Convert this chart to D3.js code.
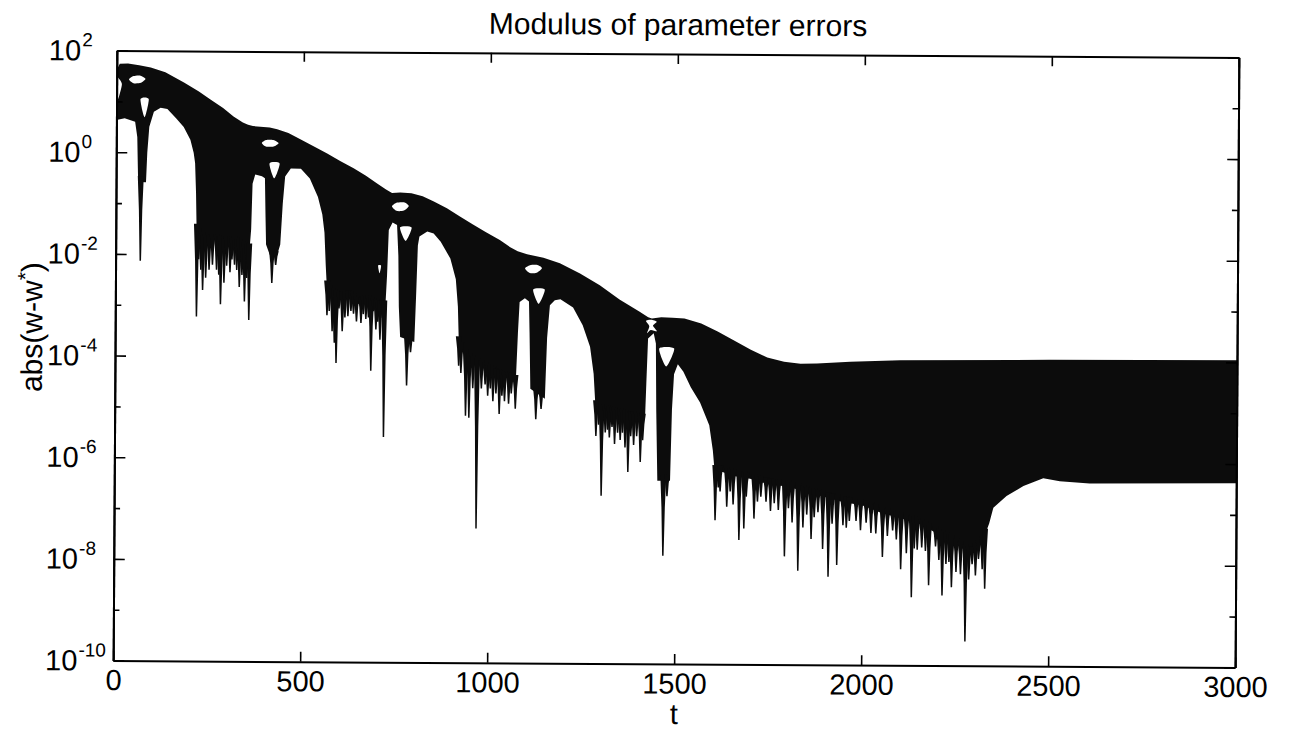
<!DOCTYPE html>
<html>
<head>
<meta charset="utf-8">
<script src="https://cdn.jsdelivr.net/npm/d3@7"></script>
<style>
  html, body { margin: 0; padding: 0; background: #ffffff; }
  svg { display: block; }
  text { font-family: "Liberation Sans", Arial, Helvetica, sans-serif; fill: #000; }
</style>
</head>
<body>
<svg id="chart" width="1290" height="733"></svg>
<script>
// ---- data: |w - w*| envelopes over time t ----
// upper edge of the error band
const upperT = [0, 8, 30, 60, 91, 130, 180, 220, 251, 285, 313, 338, 352, 365, 385, 410, 430, 460, 492, 530,
  564, 600, 635, 668, 698, 722, 738, 760, 790, 820, 850, 885, 920, 955, 990, 1027, 1055, 1075, 1100, 1144,
  1188, 1242, 1295, 1348, 1401, 1425, 1435, 1460, 1490, 1522, 1567, 1611, 1655, 1700, 1744, 1789, 1833,
  1877, 1966, 2100, 2500, 3000];
const upperV = [42, 55, 56, 52, 47, 38, 24, 16, 11.2, 7.6, 5.2, 4.0, 3.6, 3.4, 3.3, 3.2, 2.95, 2.5, 1.9, 1.35,
  1.0, 0.71, 0.52, 0.37, 0.26, 0.20, 0.17, 0.174, 0.17, 0.148, 0.117, 0.087, 0.060, 0.042, 0.0295, 0.021,
  0.0151, 0.0126, 0.011, 0.0095, 0.0074, 0.0047, 0.00275, 0.00145, 8.5e-4, 6.6e-4, 6.2e-4, 6.6e-4, 6.5e-4,
  6.3e-4, 5.0e-4, 3.5e-4, 2.35e-4, 1.55e-4, 1.1e-4, 9.1e-5, 8.3e-5, 8.5e-5, 9.3e-5, 1.0e-4, 1.07e-4, 1.1e-4];

// lower edge of the dense part of the band (arches, columns, comb roots)
const lowerT = [0, 22, 50, 56, 58, 59, 80, 83, 88, 100, 118, 136, 160, 180, 198, 207, 211, 214, 216, 225,
  245, 265, 290, 315, 340, 358, 362, 365, 372, 390, 398, 400, 402, 412, 430, 440, 446, 452, 467, 494,
  518, 540, 552, 558, 562, 565, 575, 600, 625, 650, 675, 700, 722, 726, 730, 740, 752, 756, 758, 762,
  800, 804, 808, 812, 833, 850, 869, 895, 910, 916, 919, 930, 950, 975, 1000, 1025, 1050, 1072, 1077, 1081,
  1095, 1106, 1108, 1111, 1150, 1155, 1162, 1175, 1190, 1224, 1250, 1270, 1280, 1285, 1290, 1320, 1350, 1380,
  1410, 1418, 1421, 1425, 1440, 1446, 1448, 1452, 1486, 1490, 1495, 1505, 1520, 1540, 1565, 1590, 1600, 1605,
  1620, 1660, 1700, 1750, 1800, 1850, 1900, 1950, 2000, 2050, 2100, 2150, 2200, 2250, 2290, 2320, 2340, 2351,
  2386, 2431, 2484, 2528, 2608, 3000];
const lowerV = [4.3, 4.7, 4.0, 2.0, 0.5, 0.26, 0.26, 1.0, 3.2, 6.3, 7.6, 7.2, 4.7, 3.2, 1.8, 1.0, 0.63, 0.16, 0.032, 0.022,
  0.018, 0.02, 0.016, 0.018, 0.014, 0.0126, 0.032, 0.25, 0.38, 0.35, 0.32, 0.063, 0.016, 0.010, 0.0089, 0.016, 0.10, 0.35, 0.50, 0.50,
  0.32, 0.14, 0.063, 0.028, 0.0063, 0.0025, 0.0018, 0.0014, 0.0016, 0.0011, 0.00126, 0.0010, 0.0010, 0.004, 0.032, 0.045, 0.040, 0.010, 0.0010, 2.5e-4,
  2.0e-4, 0.0016, 0.016, 0.024, 0.030, 0.0275, 0.019, 0.0089, 0.0035, 0.0010, 2.0e-4, 1.26e-4, 8.9e-5, 7.1e-5, 5.6e-5, 4.5e-5, 4.0e-5, 3.5e-5, 3.2e-4, 0.00126,
  0.0015, 0.0013, 3.2e-4, 2.5e-5, 1.6e-5, 2.5e-4, 0.0011, 0.00138, 0.00145, 0.0010, 4.5e-4, 1.7e-4, 5.0e-5, 1.26e-5, 1.0e-5, 8.9e-6, 7.9e-6, 7.1e-6,
  6.3e-6, 6.3e-6, 3.2e-5, 2.5e-4, 3.2e-4, 2.0e-4, 1.0e-5, 4.0e-7, 4.0e-7, 1.0e-5, 5.0e-5, 7.9e-5, 5.6e-5, 2.8e-5, 1.4e-5, 5.0e-6, 1.6e-6, 6.3e-7,
  6.3e-7, 5.0e-7, 4.5e-7, 3.5e-7, 3.2e-7, 2.5e-7, 2.0e-7, 1.6e-7, 1.4e-7, 1.0e-7, 7.9e-8, 6.3e-8, 4.0e-8, 2.5e-8, 1.6e-8, 2.5e-8, 6.3e-8, 1.3e-7,
  2.2e-7, 3.5e-7, 5.0e-7, 4.4e-7, 4.0e-7, 4.2e-7];

// downward excursions reaching below the dense band: time and minimum value
const spikeT = [66, 217, 222, 228, 233, 241, 250, 259, 270, 276, 281, 290, 297, 306, 311, 318, 324, 331, 338, 345, 351, 357,
  418, 428,
  566, 572, 580, 586, 591, 598, 607, 614, 622, 630, 637, 645, 657, 663, 670, 677, 684, 690, 697, 702, 708, 714, 719,
  780, 790,
  919, 925, 938, 947, 957, 968, 980, 990, 997, 1004, 1011, 1019, 1028, 1035, 1042, 1053, 1060, 1071,
  1126, 1140,
  1287, 1294, 1302, 1312, 1318, 1323, 1330, 1337, 1345, 1352, 1358, 1365, 1373, 1380, 1388, 1396, 1406, 1412,
  1468, 1478,
  1607, 1615, 1620, 1638, 1647, 1655, 1671, 1684, 1690, 1711, 1720, 1729, 1743, 1755, 1765, 1776, 1793, 1803,
  1813, 1829, 1842, 1852, 1864, 1872, 1882, 1895, 1910, 1920, 1933, 1949, 1958, 1966, 1984, 1996, 2011, 2024,
  2037, 2055, 2068, 2082, 2092, 2104, 2119, 2133, 2140, 2148, 2160, 2170, 2179, 2197, 2206, 2215, 2225, 2233,
  2240, 2252, 2264, 2277, 2286, 2295, 2304, 2312, 2322, 2329];
const spikeV = [7.4e-3, 6.0e-4, 8e-3, 5e-3, 2.0e-3, 3.5e-3, 5.0e-3, 6.3e-3, 5.0e-3, 4e-3, 1.05e-3, 2.8e-3, 6e-3, 4.5e-3, 8e-3, 6.3e-3, 5e-3, 2.3e-3, 4e-3, 1.2e-3, 3.5e-3, 5.2e-4,
  2.8e-3, 6.3e-3,
  6.6e-4, 8e-4, 3.2e-4, 1.9e-4, 7.6e-5, 9e-4, 3.2e-4, 6e-4, 6.3e-4, 8e-4, 7.1e-4, 5e-4, 4.7e-4, 7e-4, 5.6e-4, 6e-4, 5.4e-5, 8e-4, 3.5e-4, 5e-4, 2.2e-4, 6e-4, 2.7e-6,
  2.8e-5, 1.26e-4,
  6.9e-5, 5e-5, 7.2e-6, 6.6e-6, 2.5e-5, 4.4e-8, 2.5e-5, 3e-5, 1.8e-5, 2.5e-5, 1.4e-5, 2e-5, 7.9e-6, 1.8e-5, 1.4e-5, 1.26e-5, 2e-5, 1.0e-5,
  6.3e-6, 1.0e-5,
  3.0e-6, 5e-6, 2.0e-7, 3.5e-6, 4e-6, 2.8e-6, 4.5e-6, 2.1e-6, 3.5e-6, 2.5e-6, 3.5e-6, 1.8e-6, 5.9e-7, 3e-6, 2.0e-6, 3e-6, 9.3e-7, 2.5e-6,
  1.35e-8, 2.0e-7,
  6.8e-8, 3e-7, 2.5e-7, 1.26e-7, 2.5e-7, 1.4e-7, 2.8e-8, 4.7e-8, 2e-7, 7.4e-8, 1.6e-7, 2.0e-7, 1.6e-7, 1.05e-7, 1.5e-7, 1.1e-7, 1.35e-8, 1.2e-7,
  6.3e-8, 7.1e-9, 5.0e-8, 9e-8, 3.0e-8, 8e-8, 1.0e-7, 1.9e-8, 5.4e-9, 6e-8, 9.3e-9, 5.6e-8, 5e-8, 6.8e-8, 6.8e-8, 4.5e-8, 6.3e-8, 4e-8,
  3.9e-8, 1.35e-8, 3.5e-8, 4.5e-8, 3e-8, 7.8e-9, 1.6e-8, 2.2e-9, 2e-8, 1.9e-8, 2.1e-8, 1.8e-8, 3.8e-9, 2.2e-8, 1.2e-8, 2.4e-9, 1e-8, 1.1e-8,
  3.5e-9, 7e-9, 6.3e-9, 3.0e-10, 5e-9, 1.0e-8, 6e-9, 1.26e-8, 8e-9, 3.3e-9];

// regions inside the band that no trajectory crosses: [t, value] outlines
const gaps = [
  [[0, 30], [14, 22], [4, 11], [0, 13]],
  [[33, 27], [45, 31.6], [62, 32.4], [77, 28], [65, 23.4], [45, 22.9]],
  [[64, 11.2], [86, 11.2], [75, 4.9]],
  [[389, 1.58], [400, 1.82], [420, 1.82], [434, 1.58], [420, 1.35], [400, 1.35]],
  [[410, 0.63], [437, 0.63], [423, 0.32]],
  [[702, 6.3e-3], [710, 6.3e-3], [706, 4.5e-3]],
  [[738, 0.093], [750, 0.11], [770, 0.112], [783, 0.095], [770, 0.077], [750, 0.076]],
  [[760, 0.036], [791, 0.036], [775, 0.0195]],
  [[1095, 0.0058], [1108, 0.0067], [1128, 0.0068], [1140, 0.0059], [1126, 0.0048], [1108, 0.0047]],
  [[1117, 0.00224], [1148, 0.00224], [1132, 0.00117]],
  [[1419, 5.6e-4], [1433, 5.9e-4], [1448, 5.4e-4], [1438, 4.5e-4], [1449, 3.5e-4], [1432, 3.7e-4], [1422, 3.2e-4], [1428, 4.4e-4]],
  [[1455, 1.6e-4], [1495, 1.6e-4], [1474, 7.1e-5]]
];

// axis ticks
const xTicks = [0, 500, 1000, 1500, 2000, 2500, 3000];
const yLabelExp = [2, 0, -2, -4, -6, -8, -10];
const yMinorExp = [1, -1, -3, -5, -7, -9];

// ---- layout ----
const frame = { left: 115, right: 1237, top: 54, bottom: 664 };
const x = d3.scaleLinear().domain([0, 3000]).range([frame.left, frame.right]);
const y = d3.scaleLog().domain([1e-10, 1e2]).range([frame.bottom, frame.top]);

const svg = d3.select("#chart");
// the whole sheet sits with a slight clockwise tilt
const g = svg.append("g").attr("transform", "rotate(0.35, 676, 359)");

g.append("clipPath").attr("id", "plotClip")
  .append("rect")
  .attr("x", frame.left).attr("y", frame.top)
  .attr("width", frame.right - frame.left).attr("height", frame.bottom - frame.top);

const plot = g.append("g").attr("clip-path", "url(#plotClip)");
const ink = "#0c0c0c";

// band: upper edge forward, lower edge back
const upperPts = upperT.map((t, i) => [t, upperV[i]]);
const lowerPts = lowerT.map((t, i) => [t, lowerV[i]]);
const ring = d3.line().x(d => x(d[0])).y(d => y(d[1]));
plot.append("path")
  .attr("d", ring(upperPts.concat(lowerPts.slice().reverse())) + "Z")
  .attr("fill", ink);

// lower edge value at time t (log-linear interpolation)
function lowerAt(t) {
  const i = d3.bisectLeft(lowerT, t);
  if (i <= 0) return lowerV[0];
  if (i >= lowerT.length) return lowerV[lowerT.length - 1];
  const t0 = lowerT[i - 1], t1 = lowerT[i];
  const f = t1 === t0 ? 0 : (t - t0) / (t1 - t0);
  const a = Math.log10(lowerV[i - 1]), b = Math.log10(lowerV[i]);
  return Math.pow(10, a + (b - a) * f);
}

// spikes: tapered wedges from the band edge down to their minima
const spikes = spikeT.map((t, i) => ({ t, v: spikeV[i] }));
plot.append("g").selectAll("path")
  .data(spikes)
  .join("path")
  .attr("fill", ink)
  .attr("d", d => {
    const cx = x(d.t);
    const yb = y(lowerAt(d.t)) - 6;
    const yt = y(d.v);
    const ym = yb + (yt - yb) * 0.4;
    return `M${cx - 3.0},${yb}L${cx + 3.0},${yb}L${cx + 1.7},${ym}L${cx + 0.75},${yt}` +
           `L${cx - 0.75},${yt}L${cx - 1.7},${ym}Z`;
  });

// gaps inside the band
const blob = d3.line().x(d => x(d[0])).y(d => y(d[1])).curve(d3.curveCardinalClosed.tension(0.3));
plot.append("g").selectAll("path")
  .data(gaps)
  .join("path")
  .attr("fill", "#ffffff")
  .attr("d", d => blob(d));

// ---- axes ----
const fontFam = '"Liberation Sans", Arial, Helvetica, sans-serif';
function styleAxis(sel) {
  sel.select(".domain").attr("stroke", "#000").attr("stroke-width", 2);
  sel.selectAll(".tick line").attr("stroke", "#000").attr("stroke-width", 1.6);
  sel.attr("font-family", fontFam);
}

g.append("g")
  .attr("transform", `translate(0,${frame.bottom})`)
  .call(d3.axisBottom(x).tickValues(xTicks).tickSizeInner(-10).tickSizeOuter(0)
    .tickPadding(9).tickFormat(d3.format("d")))
  .call(styleAxis)
  .attr("font-size", 29)
  .selectAll("text").attr("fill", "#000");

g.append("g")
  .attr("transform", `translate(0,${frame.top})`)
  .call(d3.axisTop(x).tickValues(xTicks).tickSizeInner(-10).tickSizeOuter(0).tickFormat(""))
  .call(styleAxis);

const majorY = yLabelExp.map(e => Math.pow(10, e));
const minorY = yMinorExp.map(e => Math.pow(10, e));

g.append("g")
  .attr("transform", `translate(${frame.left},0)`)
  .call(d3.axisLeft(y).tickValues(majorY).tickSizeInner(-11).tickSizeOuter(0).tickFormat(""))
  .call(styleAxis);
g.append("g")
  .attr("transform", `translate(${frame.left},0)`)
  .call(d3.axisLeft(y).tickValues(minorY).tickSizeInner(-6).tickSizeOuter(0).tickFormat(""))
  .call(styleAxis);
g.append("g")
  .attr("transform", `translate(${frame.right},0)`)
  .call(d3.axisRight(y).tickValues(majorY).tickSizeInner(-11).tickSizeOuter(0).tickFormat(""))
  .call(styleAxis);
g.append("g")
  .attr("transform", `translate(${frame.right},0)`)
  .call(d3.axisRight(y).tickValues(minorY).tickSizeInner(-6).tickSizeOuter(0).tickFormat(""))
  .call(styleAxis);

// decade labels 10^e
const yLab = g.append("g").selectAll("text")
  .data(yLabelExp)
  .join("text")
  .attr("x", 47)
  .attr("y", e => y(Math.pow(10, e)) + 10)
  .attr("font-size", 29);
yLab.append("tspan").text("10");
yLab.append("tspan")
  .attr("font-size", 19)
  .attr("dx", 1)
  .attr("dy", -14)
  .text(e => String(e));

// titles
g.append("text")
  .attr("x", (frame.left + frame.right) / 2)
  .attr("y", 35)
  .attr("text-anchor", "middle")
  .attr("font-size", 30)
  .text("Modulus of parameter errors");

g.append("text")
  .attr("x", (frame.left + frame.right) / 2)
  .attr("y", 724)
  .attr("text-anchor", "middle")
  .attr("font-size", 29)
  .text("t");

const yTitle = g.append("text")
  .attr("transform", "translate(42,331) rotate(-90)")
  .attr("text-anchor", "middle")
  .attr("font-size", 30);
yTitle.append("tspan").text("abs(w-w");
yTitle.append("tspan").attr("font-size", 21).attr("dy", -10).text("*");
yTitle.append("tspan").attr("dy", 10).text(")");
</script>
</body>
</html>
